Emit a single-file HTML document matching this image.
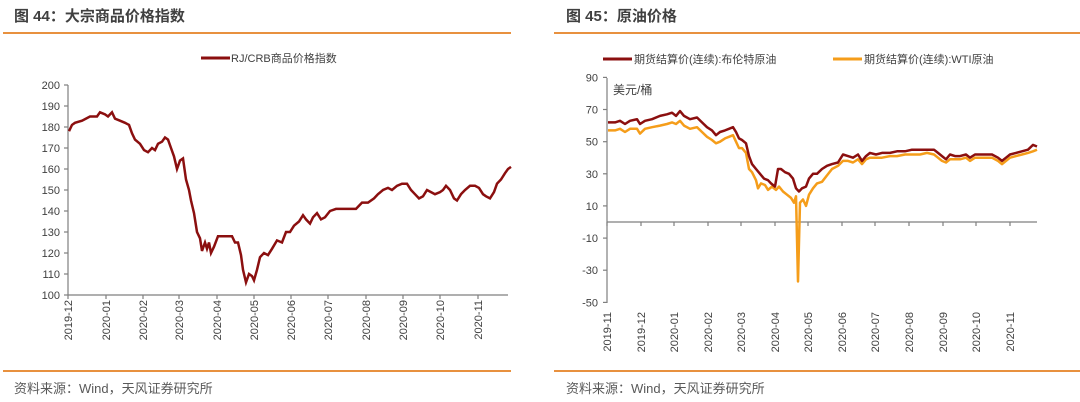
<!DOCTYPE html>
<html><head><meta charset="utf-8"><style>
body{margin:0;background:#fff;width:1080px;height:402px;overflow:hidden;font-family:"Liberation Sans","Noto Sans CJK SC",sans-serif}
svg{position:absolute;left:0;top:0}
</style></head><body>
<svg id="s" width="1080" height="402" xmlns="http://www.w3.org/2000/svg" font-family="Liberation Sans, Noto Sans CJK SC, sans-serif">
<text x="14" y="21" font-size="15" font-weight="bold" fill="#404040">图 44：大宗商品价格指数</text>
<text x="566" y="21" font-size="15" font-weight="bold" fill="#404040">图 45：原油价格</text>
<line x1="3" y1="33" x2="511" y2="33" stroke="#e8913f" stroke-width="2"/>
<line x1="554" y1="33" x2="1080" y2="33" stroke="#e8913f" stroke-width="2"/>
<line x1="3" y1="371" x2="511" y2="371" stroke="#e8913f" stroke-width="2"/>
<line x1="554" y1="371" x2="1080" y2="371" stroke="#e8913f" stroke-width="2"/>
<text x="14" y="393" font-size="13" fill="#595959">资料来源：Wind，天风证券研究所</text>
<text x="566" y="393" font-size="13" fill="#595959">资料来源：Wind，天风证券研究所</text>
<!-- left legend -->
<line x1="201" y1="58" x2="230" y2="58" stroke="#8b0f0f" stroke-width="3"/>
<text x="231" y="62" font-size="11" fill="#404040">RJ/CRB商品价格指数</text>
<!-- right legend -->
<line x1="603" y1="59" x2="632" y2="59" stroke="#8b0f0f" stroke-width="3"/>
<text x="634" y="63" font-size="11" fill="#404040">期货结算价(连续):布伦特原油</text>
<line x1="833" y1="59" x2="862" y2="59" stroke="#f59d1a" stroke-width="3"/>
<text x="864" y="63" font-size="11" fill="#404040">期货结算价(连续):WTI原油</text>
<text x="613" y="94" font-size="12" fill="#404040">美元/桶</text>
<g id="g"></g>
</svg>
<script>
var g=document.getElementById('g'),h='';
function L(a,b,c,d,col,w){h+='<line x1="'+a+'" y1="'+b+'" x2="'+c+'" y2="'+d+'" stroke="'+(col||'#7f7f7f')+'" stroke-width="'+(w||1.2)+'"/>';}
function T(x,y,t,anc,tr){h+='<text x="'+x+'" y="'+y+'" font-size="11" fill="#404040" text-anchor="'+(anc||'end')+'"'+(tr?' transform="'+tr+'"':'')+'>'+t+'</text>';}
// left axes
L(68,85,68,295);L(68,295,508,295);
for(var v=100;v<=200;v+=10){var y=295-(v-100)*2.1;L(64,y,68,y);T(60,y+4,v);}
var lx=[68,106,143,179,217,254,291,328,366,403,440,478],lm=['2019-12','2020-01','2020-02','2020-03','2020-04','2020-05','2020-06','2020-07','2020-08','2020-09','2020-10','2020-11'];
lx.forEach(function(x,i){L(x,295,x,299);T(x+4,300,lm[i],'end','rotate(-90 '+(x+4)+' 300)');});
var ld=[[69,178],[72,181],[75,182],[82,183],[90,185],[97,185],[100,187],[105,186],[108,185],[112,187],[115,184],[120,183],[125,182],[129,181],[132,177],[135,174],[140,172],[144,169],[148,168],[152,170],[155,169],[158,172],[162,173],[165,175],[168,174],[171,170],[174,166],[177,160],[180,164],[183,165],[186,155],[189,150],[191,145],[194,139],[197,130],[200,127],[202,121],[205,125],[207,122],[209,125],[211,120],[214,123],[218,128],[225,128],[232,128],[235,125],[238,125],[241,119],[243,112],[246,106],[249,110],[252,109],[254,107],[257,112],[260,118],[264,120],[268,119],[272,122],[277,126],[282,125],[286,130],[290,130],[294,133],[299,135],[303,138],[306,136],[310,134],[313,137],[317,139],[321,136],[325,137],[330,140],[336,141],[342,141],[350,141],[356,141],[362,144],[368,144],[374,146],[378,148],[383,150],[388,151],[392,150],[397,152],[402,153],[407,153],[411,150],[415,148],[419,146],[423,147],[427,150],[431,149],[435,148],[440,149],[443,150],[446,152],[450,150],[454,146],[457,145],[461,148],[465,150],[470,152],[475,152],[479,151],[483,148],[486,147],[490,146],[494,149],[497,153],[501,155],[505,158],[508,160],[511,161]];
h+='<polyline fill="none" stroke="#8b0f0f" stroke-width="2.5" points="'+ld.map(function(p){return p[0]+','+(295-(p[1]-100)*2.1).toFixed(1)}).join(' ')+'"/>';
// right axes
function ry(v){return (222-v*1.607).toFixed(1);}
L(607,78,607,303);L(607,222,1037,222);
[90,70,50,30,10,-10,-30,-50].forEach(function(v){var y=ry(v);L(603,y,607,y);T(598,+y+4,v);});
var rx=[607,641,674,708,741,775,808,842,875,909,943,976,1010],rm=['2019-11','2019-12','2020-01','2020-02','2020-03','2020-04','2020-05','2020-06','2020-07','2020-08','2020-09','2020-10','2020-11'];
rx.forEach(function(x,i){L(x,222,x,226);T(x+4,312,rm[i],'end','rotate(-90 '+(x+4)+' 312)');});
var b=[[608,62],[615,62],[620,63],[625,61],[630,63],[637,64],[640,61],[645,63],[652,64],[660,66],[667,67],[672,68],[676,66],[680,69],[684,66],[690,64],[697,65],[702,62],[707,59],[712,57],[716,54],[720,56],[725,57],[729,58],[733,59],[736,56],[739,52],[742,51],[746,49],[749,41],[752,36],[756,33],[760,30],[764,27],[768,26],[771,24],[775,22],[778,33],[781,33],[785,31],[789,30],[793,27],[796,21],[799,19],[802,21],[806,22],[809,27],[813,30],[817,30],[822,33],[827,35],[832,36],[838,37],[843,42],[848,41],[853,40],[858,42],[862,38],[866,41],[870,43],[876,42],[882,43],[890,43],[897,44],[905,44],[912,45],[920,45],[927,45],[934,45],[938,43],[942,41],[946,39],[950,42],[955,41],[960,41],[966,42],[970,40],[975,42],[980,42],[986,42],[992,42],[998,40],[1002,38],[1006,40],[1010,42],[1016,43],[1022,44],[1028,45],[1033,48],[1037,47]];
var w=[[608,57],[615,57],[620,58],[625,56],[630,58],[637,58],[640,55],[645,58],[652,59],[660,60],[667,61],[672,62],[676,61],[680,63],[684,60],[690,58],[697,59],[702,56],[707,53],[712,51],[716,49],[720,50],[725,52],[729,53],[733,54],[736,50],[739,46],[742,46],[746,43],[749,33],[752,31],[756,26],[758,21],[761,24],[765,23],[768,20],[772,22],[776,20],[779,22],[783,19],[787,17],[791,15],[794,12],[796,16],[798,-37],[800,12],[803,14],[806,10],[809,17],[813,21],[817,24],[822,25],[827,29],[832,33],[838,35],[843,38],[848,38],[853,37],[858,39],[862,36],[866,39],[870,40],[876,40],[882,40],[890,41],[897,41],[905,42],[912,42],[920,42],[927,43],[934,42],[938,40],[942,38],[946,37],[950,39],[955,39],[960,39],[966,40],[970,38],[975,40],[980,40],[986,40],[992,40],[998,38],[1002,36],[1006,38],[1010,40],[1016,41],[1022,42],[1028,43],[1033,44],[1037,45]];
function P(d,c){h+='<polyline fill="none" stroke="'+c+'" stroke-width="2.5" stroke-linejoin="round" points="'+d.map(function(p){return p[0]+','+ry(p[1])}).join(' ')+'"/>';}
P(w,'#f59d1a');P(b,'#8b0f0f');
g.innerHTML=h;
</script>
</body></html>
